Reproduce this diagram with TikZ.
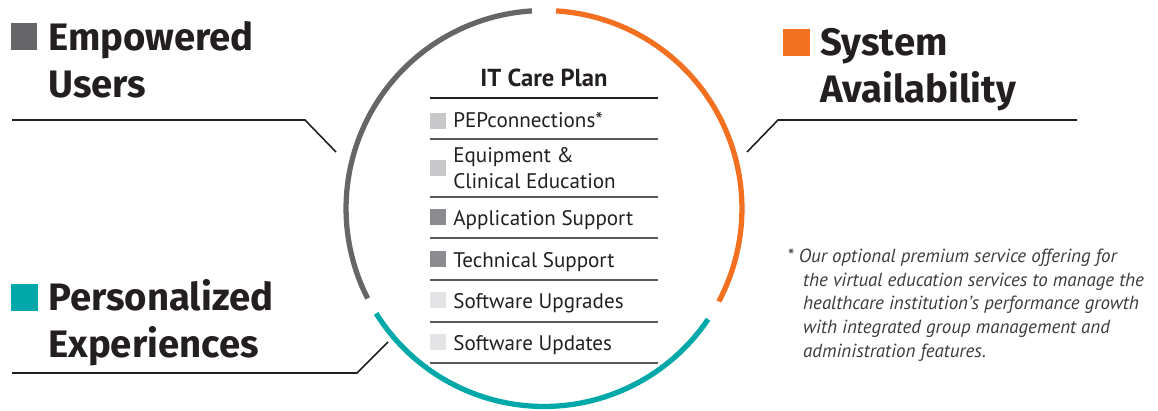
\documentclass[tikz,border=0pt]{standalone}
\usepackage{fontspec}
\setmainfont{PT Sans}
\newfontfamily\headfont{Fira Sans}
\usetikzlibrary{calc}
\definecolor{usergray}{RGB}{102,102,104}
\definecolor{sysorange}{RGB}{243,112,33}
\definecolor{careteal}{RGB}{0,168,170}
\definecolor{boxlight}{RGB}{200,200,202}
\definecolor{boxmid}{RGB}{140,140,144}
\definecolor{boxpale}{RGB}{228,228,230}
\definecolor{inkdark}{RGB}{35,31,32}
\definecolor{notegray}{RGB}{60,60,62}

\tikzset{
  heading/.style={anchor=base west, inner sep=0pt, text=inkdark,
    font=\headfont\bfseries\fontsize{21.8}{26}\selectfont},
  item/.style={anchor=base west, inner sep=0pt, text=inkdark,
    font=\fontsize{12}{14}\selectfont},
  headbox/.style={minimum size=0.53cm, inner sep=0pt},
  itembox/.style={minimum size=0.32cm, inner sep=0pt},
  ring/.style={line width=3pt},
  leader/.style={line width=0.9pt, inkdark},
  rule/.style={line width=0.6pt, black!65}
}

\begin{document}
\begin{tikzpicture}[x=0.02cm, y=0.02cm]
		\useasboundingbox (0,0) rectangle (1158,410);
		% ring
		\coordinate (c) at (544,201.5);
		\draw[ring, usergray] (c) ++(93.5:3.96cm) arc[start angle=93.5, end angle=207, radius=3.96cm];
		\draw[ring, sysorange] (c) ++(86.5:3.96cm) arc[start angle=86.5, end angle=-28, radius=3.96cm];
		\draw[ring, careteal] (c) ++(212:3.96cm) arc[start angle=212, end angle=326, radius=3.96cm];
		% headings
		\node[headbox, fill=usergray] (userbox) at (24,373.5) {};
		\node[heading] (usertop) at (48,360) {Empowered};
		\node[heading] (userbot) at (48,313) {Users};
		\node[headbox, fill=sysorange] (sysbox) at (796.5,367.5) {};
		\node[heading] (systop) at (820,355) {System};
		\node[heading] (sysbot) at (820,308) {Availability};
		\node[headbox, fill=careteal] (persbox) at (24.5,112.5) {};
		\node[heading] (perstop) at (48,100) {Personalized};
		\node[heading] (persbot) at (48,53) {Experiences};
		% leader lines
		\coordinate (userstart) at (12,290);
		\coordinate (userbend) at (305,290);
		\coordinate (userend) at (336,258);
		\draw[leader] (userstart) -- (userbend) -- (userend);
		\coordinate (sysstart) at (1077,290);
		\coordinate (sysbend) at (778,290);
		\coordinate (sysend) at (747,258);
		\draw[leader] (sysstart) -- (sysbend) -- (sysend);
		\coordinate (persstart) at (12,37);
		\coordinate (persbend) at (357,37);
		\coordinate (persend) at (388,68);
		\draw[leader] (persstart) -- (persbend) -- (persend);
		% care plan list
		\node[anchor=base, inner sep=0pt, text=inkdark, font=\bfseries\fontsize{14}{16}\selectfont] (plan) at (544,324) {IT Care Plan};
		\draw[line width=1.1pt, inkdark] (430,312) -- (658,312);
		\foreach \y in {271,213,172,130,88,47}
			\draw[rule] (430,\y) -- (658,\y);
		\node[itembox, fill=boxlight] (pepbox) at (438,289.5) {};
		\node[item] (pep) at (453,283) {PEPconnections*};
		\node[itembox, fill=boxlight] (equipbox) at (438,242) {};
		\node[item] (equipa) at (453,248) {Equipment \&};
		\node[item] (equipb) at (453,222) {Clinical Education};
		\node[itembox, fill=boxmid] (appbox) at (438,193) {};
		\node[item] (app) at (453,185) {Application Support};
		\node[itembox, fill=boxmid] (techbox) at (438,151) {};
		\node[item] (tech) at (453,143) {Technical Support};
		\node[itembox, fill=boxpale] (upgbox) at (438,110) {};
		\node[item] (upg) at (453,102) {Software Upgrades};
		\node[itembox, fill=boxpale] (updbox) at (438,68) {};
		\node[item] (upd) at (453,60) {Software Updates};
		% footnote (base is the last line)
		\node[anchor=base west, inner sep=0pt, text=notegray, align=left,
		      font=\itshape\fontsize{10.8}{13.4}\selectfont] (note) at (787,53)
		      {* Our optional premium service offering for\\
		       \hspace*{9pt}the virtual education services to manage the\\
		       \hspace*{9pt}healthcare institution’s performance growth\\
		       \hspace*{9pt}with integrated group management and\\
		       \hspace*{9pt}administration features.};
	\end{tikzpicture}
\end{document}
